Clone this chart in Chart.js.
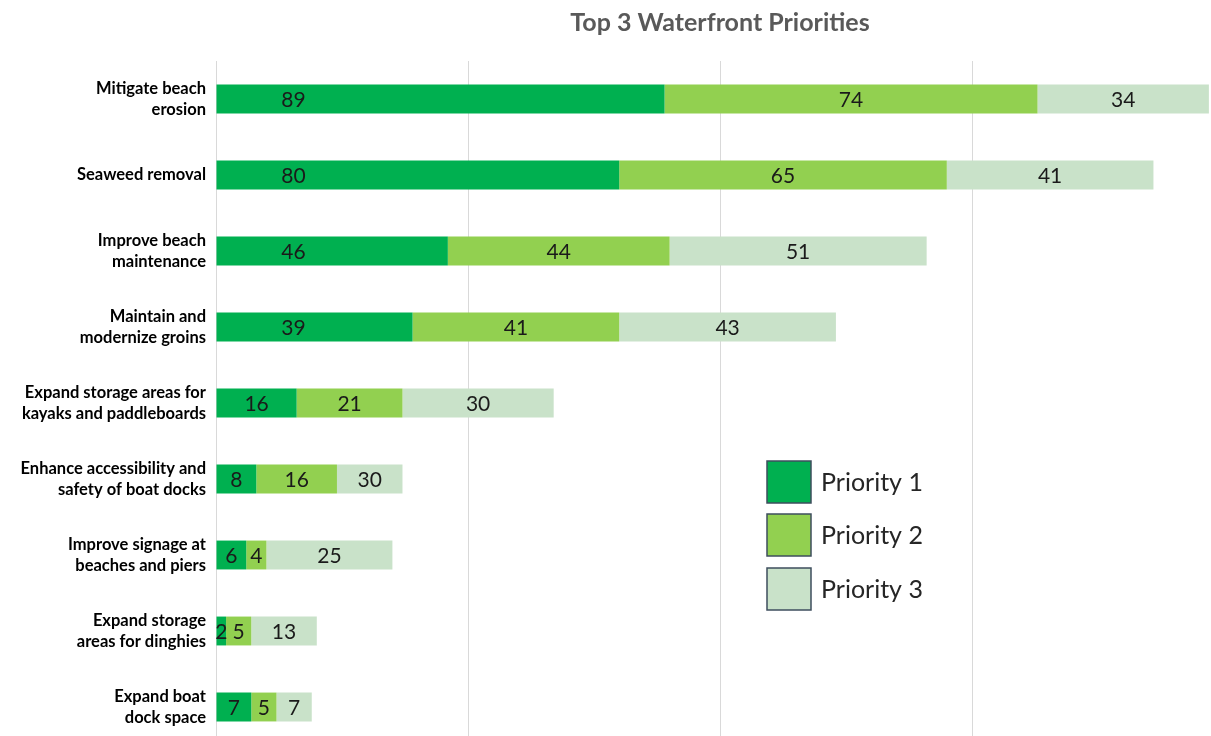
<!DOCTYPE html>
<html>
<head>
<meta charset="utf-8">
<script src="https://cdn.jsdelivr.net/npm/chart.js@4.4.0/dist/chart.umd.min.js"></script>
<style>
  html, body { margin: 0; padding: 0; background: #fff; overflow: hidden; }
  canvas { display: block; }
</style>
</head>
<body>
<canvas id="priorityChart" width="1224" height="745"></canvas>
<script>
const categories = [
  ['Mitigate beach', 'erosion'],
  'Seaweed removal',
  ['Improve beach', 'maintenance'],
  ['Maintain and', 'modernize groins'],
  ['Expand storage areas for', 'kayaks and paddleboards'],
  ['Enhance accessibility and', 'safety of boat docks'],
  ['Improve signage at', 'beaches and piers'],
  ['Expand storage', 'areas for dinghies'],
  ['Expand boat', 'dock space']
];
const priority1 = [89, 80, 46, 39, 16, 8, 6, 2, 7];
const priority2 = [74, 65, 44, 41, 21, 16, 4, 5, 5];
// bar lengths as drawn
const priority3 = [34, 41, 51, 43, 30, 13, 25, 13, 7];
// numbers printed on the bars
const priority3Labels = ['34', '41', '51', '43', '30', '30', '25', '13', '7'];

const colors = ['#00b050', '#92d050', '#c9e2c9'];

const barLabels = {
  id: 'barLabels',
  afterDatasetsDraw(chart) {
    const ctx = chart.ctx;
    ctx.save();
    ctx.font = '21px Lato';
    ctx.fillStyle = '#1a1a1a';
    ctx.textAlign = 'center';
    ctx.textBaseline = 'middle';
    chart.data.datasets.forEach((ds, i) => {
      chart.getDatasetMeta(i).data.forEach((bar, j) => {
        let x = (bar.x + bar.base) / 2;
        if (i === 0) x = Math.min(x, bar.base + 77);
        const text = ds.shown ? ds.shown[j] : String(ds.data[j]);
        ctx.fillText(text, x, bar.y + 1);
      });
    });
    ctx.restore();
  }
};

const boxLegend = {
  id: 'boxLegend',
  afterDraw(chart) {
    const ctx = chart.ctx;
    const rows = [461, 514, 568];
    ctx.save();
    chart.data.datasets.forEach((ds, i) => {
      const y = rows[i];
      ctx.fillStyle = ds.backgroundColor;
      ctx.fillRect(767, y, 44, 42);
      ctx.strokeStyle = '#3e4e5e';
      ctx.lineWidth = 1.5;
      ctx.strokeRect(767, y, 44, 42);
      ctx.fillStyle = '#262626';
      ctx.font = '25px Lato';
      ctx.textAlign = 'left';
      ctx.textBaseline = 'middle';
      ctx.fillText(ds.label, 821, y + 22);
    });
    ctx.restore();
  }
};

new Chart(document.getElementById('priorityChart'), {
  type: 'bar',
  data: {
    labels: categories,
    datasets: [
      { label: 'Priority 1', data: priority1, backgroundColor: colors[0] },
      { label: 'Priority 2', data: priority2, backgroundColor: colors[1] },
      { label: 'Priority 3', data: priority3, backgroundColor: colors[2], shown: priority3Labels }
    ]
  },
  options: {
    indexAxis: 'y',
    responsive: false,
    animation: false,
    layout: { padding: 0 },
    datasets: { bar: { barPercentage: 0.38, categoryPercentage: 1 } },
    plugins: {
      legend: { display: false },
      tooltip: { enabled: false },
      title: {
        display: true,
        fullSize: false,
        text: 'Top 3 Waterfront Priorities',
        color: '#595959',
        font: { family: 'Lato', size: 25, weight: 'bold', lineHeight: 1.2 },
        padding: { top: 8, bottom: 23 }
      }
    },
    scales: {
      x: {
        stacked: true,
        min: 0,
        max: 200,
        ticks: { display: false, stepSize: 50 },
        grid: { color: '#d9d9d9', drawTicks: false },
        border: { display: false },
        afterFit(scale) { scale.height = 0; }
      },
      y: {
        stacked: true,
        grid: { display: false },
        border: { display: false },
        ticks: {
          color: '#000',
          padding: 2,
          font: { family: 'Lato', size: 16.5, weight: 'bold', lineHeight: 1.27 }
        },
        afterFit(scale) {
          scale.width = 216;
          scale.paddingTop = 0;
          scale.paddingBottom = 0;
        }
      }
    }
  },
  plugins: [barLabels, boxLegend]
});
</script>
</body>
</html>
